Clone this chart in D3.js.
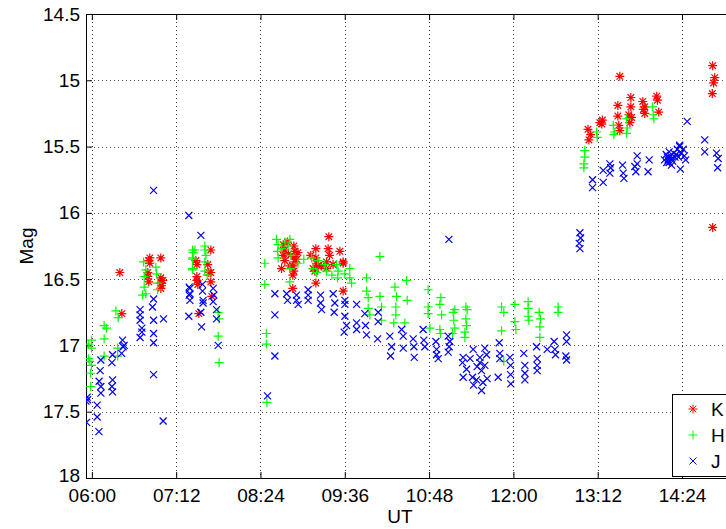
<!DOCTYPE html>
<html>
<head>
<meta charset="utf-8">
<script src="https://cdn.jsdelivr.net/npm/d3@7"></script>
<style>
  html, body { margin: 0; padding: 0; background: #fff; }
  svg { display: block; font-family: "Liberation Sans", Arial, Helvetica, sans-serif; }
</style>
</head>
<body>
<svg id="chart" width="726" height="529"></svg>
<script>
// Observation time in minutes after 00:00 UT, magnitude
const kBand = [
  [383.9,16.45],[385.6,16.76],
  [409.5,16.34],[409.5,16.38],[418.9,16.34],[407.8,16.45],[407.8,16.48],[408.6,16.52],[418.9,16.49],
  [418.9,16.53],[418.9,16.57],[420.6,16.51],[408.6,16.36],[419.5,16.55],
  [461.6,16.28],[448.8,16.36],[449.7,16.39],[459.0,16.39],[459.9,16.45],[461.6,16.45],[449.7,16.48],
  [449.7,16.51],[450.5,16.54],[461.6,16.52],[462.4,16.63],[451.4,16.76],
  [523.4,16.24],[524.8,16.28],[523.4,16.32],[524.8,16.36],[522.0,16.42],
  [532.5,16.25],[533.4,16.29],[532.5,16.33],[533.4,16.37],[531.6,16.40],[532.5,16.44],[531.6,16.47],
  [551.3,16.27],[551.3,16.34],[551.9,16.38],[550.4,16.44],[553.0,16.40],
  [562.4,16.18],[561.8,16.27],[560.4,16.37],[560.4,16.42],
  [571.8,16.29],[574.6,16.37],[574.6,16.38],
  [531.6,16.57],[551.3,16.53],[574.6,16.59],
  [527.0,16.22],[528.0,16.31],[529.0,16.40],[535.0,16.35],[536.0,16.30],[547.0,16.32],[549.0,16.42],
  [556.0,16.40],[563.0,16.32],[566.0,16.39],
  [783.7,15.37],[784.5,15.45],[786.0,15.41],[793.8,15.32],[795.5,15.33],[796.0,15.30],
  [809.2,15.19],[809.2,15.27],[810.0,15.34],[810.9,15.38],[810.9,14.97],
  [820.3,15.13],[820.3,15.20],[818.6,15.26],[819.5,15.32],[821.0,15.28],
  [830.5,15.16],[832.2,15.20],[832.2,15.25],[831.0,15.22],
  [842.4,15.12],[843.0,15.15],[844.1,15.24],
  [890.2,14.89],[891.9,14.98],[891.0,15.02],[889.9,15.10],[890.2,16.11]
];

const hBand = [
  [357.0,16.99],[359.7,16.96],[359.7,17.02],[357.0,17.10],[358.3,17.12],[359.7,17.15],[358.9,17.21],[359.0,17.31],
  [370.5,16.85],[372.5,16.87],[370.5,16.95],[370.5,17.08],
  [380.5,16.74],[382.5,16.79],[382.0,17.02],[382.0,17.08],
  [404.2,16.37],[406.1,16.43],[404.7,16.48],[404.7,16.56],[406.1,16.61],[403.3,16.62],
  [414.7,16.41],[415.3,16.46],[416.1,16.53],[416.1,16.58],
  [446.0,16.28],[446.0,16.34],[446.0,16.42],[448.0,16.28],[446.5,16.30],[446.0,16.35],[446.0,16.43],
  [456.5,16.25],[456.5,16.28],[457.4,16.32],[456.5,16.37],[456.5,16.44],[458.5,16.47],
  [467.9,16.75],[468.7,16.80],[467.9,16.93],[468.7,17.13],
  [507.7,16.38],[507.7,16.54],[509.0,16.91],[509.0,16.99],[509.5,17.43],
  [517.7,16.20],[519.1,16.24],[518.6,16.29],[519.1,16.34],
  [529.1,16.20],[527.6,16.25],[530.0,16.32],[529.1,16.42],[529.1,16.52],
  [547.6,16.34],[549.0,16.42],[551.9,16.45],
  [559.0,16.39],[560.4,16.44],
  [569.0,16.39],[570.3,16.44],[569.8,16.49],
  [580.3,16.42],[580.3,16.49],[581.8,16.53],
  [606.0,16.33],[594.6,16.49],
  [522.0,16.27],[525.0,16.22],[536.0,16.38],[541.0,16.35],[553.0,16.36],[565.0,16.47],[576.0,16.46],
  [594.6,16.59],[596.0,16.64],[596.0,16.72],[597.4,16.77],
  [606.0,16.63],[607.4,16.71],[607.4,16.81],
  [618.8,16.56],[620.2,16.63],[619.6,16.71],[619.6,16.77],[617.9,16.83],
  [628.8,16.51],[629.3,16.66],[627.3,16.83],
  [647.2,16.58],[647.2,16.71],[647.2,16.76],[648.7,16.87],
  [658.1,16.64],[657.2,16.69],[658.7,16.77],[657.2,16.88],[657.8,16.91],
  [668.6,16.75],[670.0,16.73],[669.1,16.81],[670.0,16.87],[668.0,16.91],
  [679.4,16.71],[680.5,16.73],[679.4,16.80],[680.0,16.85],[678.6,16.90],[678.6,16.94],
  [709.9,16.71],[711.8,16.75],[709.9,16.89],[711.8,17.12],
  [721.3,16.69],[721.3,16.82],[722.1,16.88],
  [732.6,16.67],[732.6,16.72],[732.6,16.78],[733.2,16.81],
  [742.0,16.75],[743.2,16.80],[742.6,16.86],[742.6,16.94],
  [758.2,16.71],[758.2,16.75],
  [781.0,15.53],[781.0,15.58],[780.2,15.63],[780.2,15.66],
  [791.1,15.39],[791.6,15.43],
  [805.3,15.34],[806.6,15.39],[805.8,15.41],
  [816.6,15.29],[817.2,15.36],[816.6,15.40],
  [838.8,15.20],[839.4,15.26],[840.0,15.29]
];

const jBand = [
  [356.0,17.39],[355.0,17.42],[355.5,17.58],[356.3,17.41],
  [364.5,17.45],[364.5,17.54],[366.0,17.65],[367.7,17.36],
  [366.2,17.27],[367.7,17.31],[367.1,17.19],[367.7,17.11],
  [377.7,17.07],[377.1,17.13],[377.7,17.26],[377.1,17.31],[377.7,17.35],
  [386.2,16.96],[387.6,17.00],[386.7,17.01],[385.4,17.06],
  [401.2,16.73],[401.2,16.77],[401.2,16.81],[402.7,16.87],[402.7,16.90],[401.2,16.94],
  [412.7,16.65],[411.8,16.71],[412.7,16.81],[412.7,16.91],[412.7,16.98],[412.7,17.22],
  [421.2,16.80],[412.7,15.83],[420.9,17.57],
  [443.1,16.56],[443.1,16.62],[443.7,16.66],[443.7,16.57],[443.7,16.61],
  [442.8,16.02],[453.1,16.17],[442.8,16.78],
  [454.5,16.54],[454.5,16.59],[455.0,16.66],[455.0,16.68],[453.1,16.75],[453.7,16.86],
  [463.6,16.57],[464.2,16.62],[463.6,16.67],[466.5,16.73],[466.5,16.80],[467.9,17.00],
  [510.0,17.38],[516.3,16.77],[516.3,17.08],
  [516.3,16.61],[526.3,16.61],[527.1,16.66],
  [534.8,16.62],[534.8,16.66],[536.2,16.69],
  [544.7,16.58],[544.7,16.62],[544.7,16.66],
  [555.3,16.62],[555.3,16.68],[556.2,16.73],
  [566.1,16.61],[567.5,16.68],[566.9,16.75],
  [576.1,16.66],[576.1,16.69],[576.1,16.78],[577.5,16.85],[575.5,16.90],
  [586.1,16.69],[586.1,16.83],[586.1,16.88],
  [593.1,16.76],[593.7,16.85],[594.6,16.92],
  [604.5,16.75],[604.5,16.82],[604.0,16.95],
  [614.5,16.93],[616.0,17.01],[615.1,17.08],
  [624.5,16.88],[625.9,16.93],[625.9,17.02],
  [634.4,16.95],[635.0,17.01],[635.3,17.09],
  [642.9,16.88],[643.5,16.96],[644.4,17.01],
  [653.8,16.97],[654.4,17.07],[655.8,17.10],[654.4,17.03],
  [664.3,16.93],[665.7,16.97],[665.1,17.01],[664.3,17.05],
  [664.9,16.20],
  [677.1,17.09],[676.6,17.13],[677.1,17.24],
  [685.6,17.03],[685.1,17.24],[688.5,17.26],
  [691.4,17.09],[691.4,17.13],[692.8,17.19],[692.8,17.34],
  [695.6,17.02],[697.1,17.07],[695.6,17.15],[697.6,17.25],
  [680.0,17.18],[683.0,17.10],[689.0,17.16],[694.0,17.28],[686.0,17.30],
  [707.9,16.98],[708.4,17.06],[708.4,17.10],[707.0,17.24],
  [717.0,17.09],[717.6,17.15],[717.6,17.22],[717.8,17.29],
  [728.9,17.06],[729.8,17.15],[729.8,17.21],[729.8,17.26],
  [739.8,17.01],[740.3,17.10],[740.3,17.15],[740.3,17.19],
  [748.9,17.03],
  [754.8,16.97],[755.4,17.03],[756.0,17.07],
  [765.4,16.92],[765.4,16.97],[764.8,17.08],[765.4,17.11],
  [776.8,16.15],[777.4,16.19],[776.2,16.23],[776.8,16.27],
  [787.6,15.75],[787.6,15.81],
  [796.7,15.68],[796.7,15.77],
  [802.4,15.63],[803.0,15.66],[802.4,15.70],
  [813.2,15.64],[813.8,15.70],[814.4,15.74],
  [823.7,15.65],[824.6,15.69],
  [825.7,15.57],[825.7,15.63],
  [835.9,15.60],[835.0,15.69],
  [850.5,15.56],[851.5,15.58],[852.0,15.60],[853.0,15.62],[854.0,15.57],[855.0,15.59],[856.0,15.61],
  [857.0,15.55],[858.0,15.58],[853.0,15.54],[851.0,15.62],[855.0,15.64],[849.0,15.60],[859.0,15.56],
  [860.0,15.52],[862.0,15.50],[863.0,15.55],[865.0,15.52],[866.0,15.57],[861.0,15.58],
  [862.0,15.49],[863.4,15.55],[867.1,15.60],[862.6,15.67],
  [868.4,15.31],
  [883.4,15.45],[883.4,15.54],
  [893.5,15.55],[894.9,15.59],[894.4,15.66]
];

const timeTicks = [360, 432, 504, 576, 648, 720, 792, 864];
const magTicks = [14.5, 15, 15.5, 16, 16.5, 17, 17.5, 18];
const bandNames = ["K", "H", "J"];
const bandColors = ["#ff0000", "#00ff00", "#0000ff"];

const svg = d3.select("#chart");
svg.append("rect").attr("width", 726).attr("height", 529).attr("fill", "#fff");

const plot = { left: 86, top: 14, right: 771, bottom: 478 };

const x = d3.scaleLinear().domain([355, 940]).range([plot.left, plot.right]);
const y = d3.scaleLinear().domain([14.5, 18]).range([plot.top, plot.bottom]);

const fmtTime = m => {
  const h = Math.floor(m / 60), mm = Math.round(m % 60);
  return String(h).padStart(2, "0") + ":" + String(mm).padStart(2, "0");
};

// dotted grid
const grid = svg.append("g").attr("shape-rendering", "crispEdges");
grid.selectAll("line.vg").data(timeTicks).join("line")
  .attr("x1", d => Math.round(x(d)) + 0.5).attr("x2", d => Math.round(x(d)) + 0.5)
  .attr("y1", plot.top).attr("y2", plot.bottom)
  .attr("stroke", "#333").attr("stroke-dasharray", "1,3");
grid.selectAll("line.hg").data(magTicks.slice(1, -1)).join("line")
  .attr("y1", d => Math.round(y(d)) + 0.5).attr("y2", d => Math.round(y(d)) + 0.5)
  .attr("x1", plot.left).attr("x2", plot.right)
  .attr("stroke", "#555").attr("stroke-dasharray", "1,3");

// axes with inward ticks
const fontSize = 19;
const xAxisBottom = d3.axisBottom(x).tickValues(timeTicks).tickFormat(fmtTime).tickSizeInner(-6).tickSizeOuter(0).tickPadding(11);
const xAxisTop = d3.axisTop(x).tickValues(timeTicks).tickFormat("").tickSizeInner(-6).tickSizeOuter(0);
const yAxisLeft = d3.axisLeft(y).tickValues(magTicks).tickFormat(d3.format("")).tickSizeInner(-6).tickSizeOuter(0).tickPadding(6);

function styleAxis(g) {
  g.select(".domain").attr("stroke", "#000");
  g.selectAll(".tick line").attr("stroke", "#000");
  g.selectAll("text").attr("fill", "#000").attr("font-size", fontSize)
    .attr("font-family", "'Liberation Sans', Arial, Helvetica, sans-serif");
}

svg.append("g").attr("transform", `translate(0,${plot.bottom})`).call(xAxisBottom).call(styleAxis);
svg.append("g").attr("transform", `translate(0,${plot.top})`).call(xAxisTop).call(styleAxis);
const yAxisG = svg.append("g").attr("transform", `translate(${plot.left},0)`).call(yAxisLeft).call(styleAxis);
// lowest magnitude label sits a little higher so it clears the time labels
yAxisG.selectAll(".tick text").filter(d => d === 18).attr("dy", "0.2em");

// axis titles
svg.append("text").attr("x", 400).attr("y", 523).attr("text-anchor", "middle")
  .attr("font-size", fontSize).text("UT");
svg.append("text").attr("transform", "translate(33,246) rotate(-90)").attr("text-anchor", "middle")
  .attr("font-size", fontSize).text("Mag");

// marker shapes: star, plus, cross
const markerPath = {
  K: "M-4.5,0H4.5M0,-4.5V4.5M-3.3,-3.3L3.3,3.3M-3.3,3.3L3.3,-3.3",
  H: "M-4.5,0H4.5M0,-4.5V4.5",
  J: "M-3.5,-3.5L3.5,3.5M-3.5,3.5L3.5,-3.5"
};

svg.append("clipPath").attr("id", "plotClip").append("rect")
  .attr("x", plot.left).attr("y", plot.top).attr("width", plot.right - plot.left).attr("height", plot.bottom - plot.top);

const marks = svg.append("g").attr("clip-path", "url(#plotClip)");
[kBand, hBand, jBand].forEach((series, i) => {
  marks.append("g").selectAll("path").data(series).join("path")
    .attr("transform", d => `translate(${x(d[0])},${y(d[1])})`)
    .attr("d", markerPath[bandNames[i]])
    .attr("fill", "none").attr("stroke", bandColors[i]).attr("stroke-width", 1.2);
});

// legend
const legend = svg.append("g");
legend.append("rect").attr("x", 672.5).attr("y", 394.5).attr("width", 90).attr("height", 82)
  .attr("fill", "#fff").attr("stroke", "#000");
bandNames.forEach((name, i) => {
  const ly = 409 + i * 26;
  legend.append("path").attr("transform", `translate(693,${ly})`).attr("d", markerPath[name])
    .attr("fill", "none").attr("stroke", bandColors[i]);
  legend.append("text").attr("x", 711).attr("y", ly + 7).attr("font-size", fontSize).text(name);
});
</script>
</body>
</html>
